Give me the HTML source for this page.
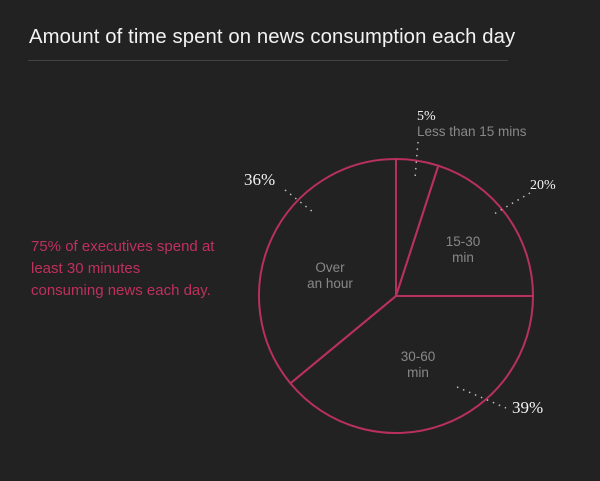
<!DOCTYPE html>
<html><head><meta charset="utf-8"><style>
html,body{margin:0;padding:0;background:#222222;}
body{width:600px;height:481px;position:relative;overflow:hidden;font-family:"Liberation Sans",sans-serif;}
#title{position:absolute;left:29px;top:26px;font-size:20.3px;color:#f2f2f2;letter-spacing:0.1px;}
#rule{position:absolute;left:28px;top:60px;width:480px;height:1px;background:#444;}
#note{position:absolute;left:31px;top:236px;font-size:15px;line-height:22px;color:#c0305e;}
svg{position:absolute;left:0;top:0;}
</style></head><body>
<div id="title">Amount of time spent on news consumption each day</div>
<div id="rule"></div>
<div id="note">75% of executives spend at<br>least 30 minutes<br>consuming news each day.</div>
<svg id="chart" width="600" height="481"></svg>
<script>
const categories = ["Less than 15 mins","15-30 min","30-60 min","Over an hour"];
const values = [5,20,39,36];
const pctLabels = ["5%","20%","39%","36%"];
const NS="http://www.w3.org/2000/svg";
const svg=document.getElementById('chart');
const cx=396,cy=296,r=137;
const total=values.reduce((a,b)=>a+b,0);
function pt(frac,rad){const a=frac*2*Math.PI-Math.PI/2;return [cx+rad*Math.cos(a),cy+rad*Math.sin(a)];}
function mk(tag,attrs){const e=document.createElementNS(NS,tag);for(const k in attrs)e.setAttribute(k,attrs[k]);svg.appendChild(e);return e;}
let acc=0;
values.forEach((v,i)=>{
  const s=acc/total,e=(acc+v)/total;acc+=v;
  const p0=pt(s,r),p1=pt(e,r);
  const large=(e-s)>0.5?1:0;
  const p=mk('path',{d:`M${cx},${cy} L${p0[0]},${p0[1]} A${r},${r} 0 ${large} 1 ${p1[0]},${p1[1]} Z`,fill:'none',stroke:'#b8305c','stroke-width':2,'stroke-linejoin':'round'});
  
  
});
// annotation leader lines (layout, not data)
const leaderLines=[[418,142,415,178],[530,193,494,214],[457,387,506,408],[285,190,313,212]];
leaderLines.forEach((c,i)=>{
  const l=mk('line',{x1:c[0],y1:c[1],x2:c[2],y2:c[3],stroke:'#bbb','stroke-width':1.5,'stroke-dasharray':'1.5,5'});
  
  
});
const pctPos=[[417,120,'start',14],[530,189,'start',14],[512,413,'start',17],[244,185,'start',17]];
pctPos.forEach((p,i)=>{
  const t=mk('text',{x:p[0],y:p[1],'text-anchor':p[2],fill:'#f2f2f2','font-size':p[3],'font-family':'"Liberation Serif",serif'});
  t.textContent=pctLabels[i];
  
  
});
const inner=[[["Less than 15 mins"],417,136,'start'],[["15-30","min"],463,246,'middle'],[["30-60","min"],418,361,'middle'],[["Over","an hour"],330,272,'middle']];
inner.forEach((c,i)=>{
  c[0].forEach((line,j)=>{
    const t=mk('text',{x:c[1],y:c[2]+j*16,'text-anchor':c[3],fill:'#888','font-size':13.5,'font-family':'"Liberation Sans",sans-serif'});
    t.textContent=line;
    
    
  });
});
</script>
</body></html>
